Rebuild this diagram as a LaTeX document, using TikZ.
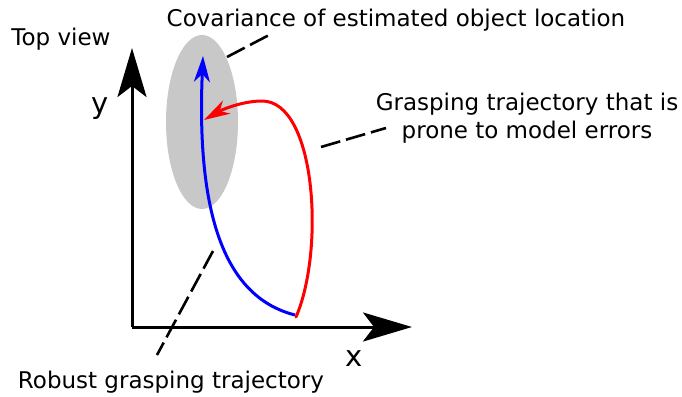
\documentclass[tikz,border=0pt]{standalone}
\usepackage{fontspec}
\setmainfont{DejaVu Sans}
\usetikzlibrary{arrows.meta,shapes.geometric}
\definecolor{covgray}{RGB}{200,200,200}
\tikzset{
  lbl/.style={font=\fontsize{23}{28}\selectfont, inner sep=0pt, anchor=base, align=center},
  axlbl/.style={font=\fontsize{29}{32}\selectfont, inner sep=0pt, anchor=base},
  axis/.style={line width=3pt, -{Stealth[length=49pt,width=29pt,inset=11pt]}},
  pointer/.style={line width=2.6pt, dash pattern=on 20pt off 6pt},
  robust/.style={line width=3pt, blue, -{Stealth[length=26pt,width=16pt,inset=8pt]}},
  prone/.style={line width=3pt, red, -{Stealth[length=26pt,width=15pt,inset=8pt]}},
}
\begin{document}
\begin{tikzpicture}[x=1pt,y=-1pt]
\useasboundingbox (0,0) rectangle (682,396);
% covariance ellipse
\node[ellipse, fill=covgray, minimum width=72pt, minimum height=174pt, inner sep=0pt] (cov) at (202,122) {};
% axes
\coordinate (o) at (132,327);
\coordinate (ytip) at (132,48);
\coordinate (xtip) at (412,327);
\draw[axis] (o) -- (ytip);
\draw[axis] (o) -- (xtip);
\node[axlbl] (ylab) at (100,113) {y};
\node[axlbl] (xlab) at (354,366) {x};
% trajectories
\coordinate (start) at (295,315);
\coordinate (goal) at (203,56);
\coordinate (redstart) at (296,317);
\coordinate (redtop) at (262,101);
\coordinate (redgoal) at (204,120);
\draw[robust] (start) .. controls (228,298) and (196,222) .. (goal);
\draw[prone, line cap=round] (redstart) .. controls (325,250) and (316,101) .. (redtop) .. controls (245,101) and (225,108) .. (redgoal);
% labels
\node[lbl] (topview) at (61,46) {Top view};
\node[lbl] (covlab) at (396,27) {Covariance of estimated object location};
\node[lbl] (pronelab) at (527,138) {Grasping trajectory that is\\prone to model errors};
\node[lbl] (robustlab) at (171,388) {Robust grasping trajectory};
% pointers
\coordinate (p1a) at (227,57);
\coordinate (p1b) at (271,34);
\coordinate (p2a) at (321,147);
\coordinate (p2b) at (386,128);
\coordinate (p3a) at (213,251);
\coordinate (p3b) at (157,355);
\draw[pointer] (p1a) -- (p1b);
\draw[pointer] (p2a) -- (p2b);
\draw[pointer] (p3a) -- (p3b);
\end{tikzpicture}
\end{document}
